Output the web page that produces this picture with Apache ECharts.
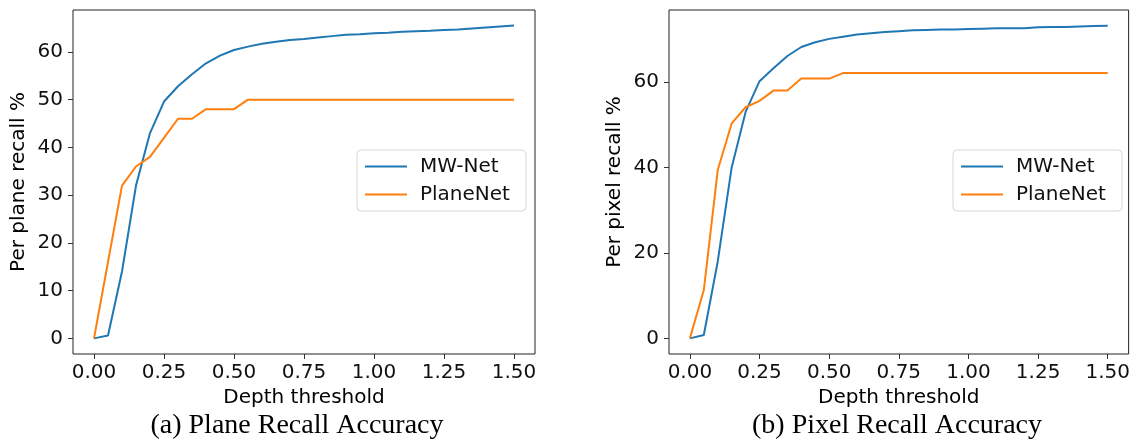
<!DOCTYPE html>
<html>
<head>
<meta charset="utf-8">
<script src="https://cdn.jsdelivr.net/npm/echarts@6/dist/echarts.min.js"></script>
<style>
  html, body { margin: 0; padding: 0; background: #fff; }
  #chart { width: 1133px; height: 441px; }
</style>
</head>
<body>
<div id="chart"></div>
<script>
// depth thresholds (x)
const thresholds = [0, 0.05, 0.1, 0.15, 0.2, 0.25, 0.3, 0.35, 0.4, 0.45, 0.5, 0.55, 0.6, 0.65, 0.7, 0.75,
  0.8, 0.85, 0.9, 0.95, 1.0, 1.05, 1.1, 1.15, 1.2, 1.25, 1.3, 1.35, 1.4, 1.45, 1.5];

// (a) per plane recall
const planeMW = [0, 0.6, 14, 32, 43, 49.6, 52.8, 55.3, 57.6, 59.2, 60.4, 61.1, 61.7, 62.1, 62.5, 62.7,
  63.0, 63.3, 63.6, 63.7, 63.9, 64.0, 64.2, 64.3, 64.4, 64.6, 64.7, 64.9, 65.1, 65.3, 65.5];
const planePN = [0, 16, 32, 36, 38, 42, 46, 46, 48, 48, 48, 50, 50, 50, 50, 50,
  50, 50, 50, 50, 50, 50, 50, 50, 50, 50, 50, 50, 50, 50, 50];

// (b) per pixel recall
const pixelMW = [0, 0.8, 18, 40, 53, 60.2, 63.2, 66.1, 68.2, 69.3, 70.1, 70.6, 71.1, 71.4, 71.7, 71.9,
  72.1, 72.2, 72.3, 72.3, 72.4, 72.5, 72.6, 72.6, 72.6, 72.8, 72.9, 72.9, 73.0, 73.1, 73.2];
const pixelPN = [0, 11.3, 39.4, 50.3, 54.1, 55.6, 58, 58, 60.8, 60.8, 60.8, 62.1, 62.1, 62.1, 62.1, 62.1,
  62.1, 62.1, 62.1, 62.1, 62.1, 62.1, 62.1, 62.1, 62.1, 62.1, 62.1, 62.1, 62.1, 62.1, 62.1];

const xTicks = [0, 0.25, 0.5, 0.75, 1.0, 1.25, 1.5];
const planeTicks = [0, 10, 20, 30, 40, 50, 60];
const pixelTicks = [0, 20, 40, 60];

const seriesNames = ["MW-Net", "PlaneNet"];
const colors = ["#1f77b4", "#ff7f0e"];
const font = "DejaVu Sans";
const fs = 20;

const pairs = (ys) => thresholds.map((x, i) => [x, ys[i]]);

let mycharts = echarts.init(document.getElementById("chart"));

function xAxisOpt(gridIndex) {
  return {
    type: "value",
    gridIndex: gridIndex,
    min: -0.075,
    max: 1.575,
    name: "Depth threshold",
    nameLocation: "middle",
    nameGap: 31,
    nameTextStyle: { fontFamily: font, fontSize: fs, color: "#000" },
    axisLine: { show: false, onZero: false },
    splitLine: { show: false },
    axisTick: { show: true, length: 5, lineStyle: { color: "#333" }, customValues: xTicks },
    axisLabel: {
      fontFamily: font, fontSize: fs, color: "#111", margin: 9,
      customValues: xTicks,
      formatter: (v) => v.toFixed(2),
    },
  };
}

function yAxisOpt(gridIndex, name, min, max, ticks) {
  return {
    type: "value",
    gridIndex: gridIndex,
    min: min,
    max: max,
    name: name,
    nameLocation: "middle",
    nameGap: 44,
    nameTextStyle: { fontFamily: font, fontSize: fs, color: "#000" },
    axisLine: { show: false, onZero: false },
    splitLine: { show: false },
    axisTick: { show: true, length: 5, lineStyle: { color: "#333" }, customValues: ticks },
    axisLabel: {
      fontFamily: font, fontSize: fs, color: "#111", margin: 10,
      customValues: ticks,
    },
  };
}

function legendOpt(left) {
  return {
    data: seriesNames,
    orient: "vertical",
    left: left,
    top: 150,
    icon: "rect",
    itemWidth: 42,
    itemHeight: 2,
    itemGap: 7,
    padding: [6, 16, 6, 8],
    borderColor: "#d6d6d6",
    borderWidth: 1,
    borderRadius: 4,
    textStyle: { fontFamily: font, fontSize: fs, color: "#111", lineHeight: 21, padding: [0, 0, 0, 8] },
    selectedMode: false,
  };
}

function lineSeries(name, idx, data, color) {
  return {
    name: name,
    type: "line",
    xAxisIndex: idx,
    yAxisIndex: idx,
    data: pairs(data),
    symbol: "none",
    color: color,
    lineStyle: { width: 2, color: color },
    silent: true,
  };
}

let option = {
  animation: false,
  grid: [
    { left: 73, top: 10, width: 462, height: 344, show: true, borderColor: "#222", borderWidth: 1 },
    { left: 669, top: 10, width: 462, height: 344, show: true, borderColor: "#222", borderWidth: 1 },
  ],
  xAxis: [xAxisOpt(0), xAxisOpt(1)],
  yAxis: [
    yAxisOpt(0, "Per plane recall %", -3.27, 68.77, planeTicks),
    yAxisOpt(1, "Per pixel recall %", -3.66, 76.86, pixelTicks),
  ],
  legend: [legendOpt(357), legendOpt(953)],
  series: [
    lineSeries("MW-Net", 0, planeMW, colors[0]),
    lineSeries("PlaneNet", 0, planePN, colors[1]),
    lineSeries("MW-Net", 1, pixelMW, colors[0]),
    lineSeries("PlaneNet", 1, pixelPN, colors[1]),
  ],
  graphic: [
    {
      type: "text", x: 297, y: 426,
      style: { text: "(a) Plane Recall Accuracy", font: "28px 'Liberation Serif'", fill: "#000", align: "center", verticalAlign: "middle" },
    },
    {
      type: "text", x: 897, y: 426,
      style: { text: "(b) Pixel Recall Accuracy", font: "28px 'Liberation Serif'", fill: "#000", align: "center", verticalAlign: "middle" },
    },
  ],
};
mycharts.setOption(option);
</script>
</body>
</html>
